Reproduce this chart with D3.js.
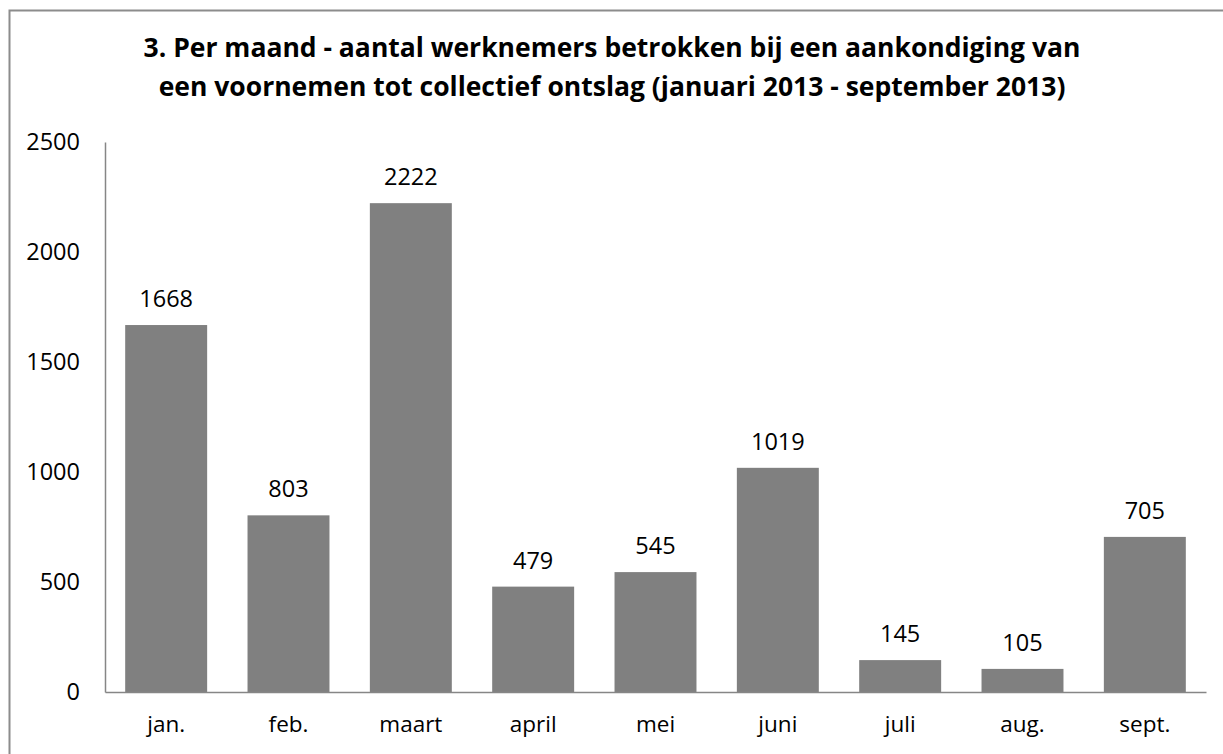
<!DOCTYPE html>
<html>
<head>
<meta charset="utf-8">
<script src="https://cdn.jsdelivr.net/npm/d3@7"></script>
<style>
  body { margin: 0; background: #fff; }
  svg text { font-family: "Open Sans", "DejaVu Sans", sans-serif; fill: #000; }
</style>
</head>
<body>
<svg id="chart"></svg>
<script>
// data
var months = ["jan.", "feb.", "maart", "april", "mei", "juni", "juli", "aug.", "sept."];
var workers = [1668, 803, 2222, 479, 545, 1019, 145, 105, 705];
var yTicks = [0, 500, 1000, 1500, 2000, 2500];
var titleLines = [
  "3. Per maand - aantal werknemers betrokken bij een aankondiging van",
  "een voornemen tot collectief ontslag (januari 2013 - september 2013)"
];

var W = 1223, H = 754;
var margin = {top: 142, right: 17, bottom: 62, left: 105};

var svg = d3.select("#chart")
    .attr("width", W)
    .attr("height", H);

// outer chart frame (runs off the right and bottom edge like the source)
svg.append("rect")
    .attr("x", 9.5)
    .attr("y", 10.5)
    .attr("width", W + 20)
    .attr("height", H + 20)
    .attr("fill", "white")
    .attr("stroke", "#8c8c8c")
    .attr("stroke-width", 2);

// title
svg.append("g").selectAll("text")
    .data(titleLines)
  .enter().append("text")
    .attr("x", 612)
    .attr("y", function(d, i) { return 57 + i * 39; })
    .attr("text-anchor", "middle")
    .attr("font-size", "26.5px")
    .attr("font-weight", "bold")
    .text(function(d) { return d; });

var x = d3.scaleBand()
    .domain(months)
    .range([margin.left, W - margin.right])
    .paddingInner(0.33)
    .paddingOuter(0.165);

var y = d3.scaleLinear()
    .domain([0, 2500])
    .range([H - margin.bottom, margin.top]);

// bars
svg.append("g").selectAll("rect")
    .data(workers)
  .enter().append("rect")
    .attr("x", function(d, i) { return x(months[i]); })
    .attr("y", function(d) { return y(d); })
    .attr("width", x.bandwidth())
    .attr("height", function(d) { return y(0) - y(d); })
    .attr("fill", "#808080");

// value labels
svg.append("g").selectAll("text")
    .data(workers)
  .enter().append("text")
    .attr("x", function(d, i) { return x(months[i]) + x.bandwidth() / 2; })
    .attr("y", function(d) { return y(d) - 18; })
    .attr("text-anchor", "middle")
    .attr("font-size", "23.5px")
    .text(function(d) { return d; });

// y axis
var yAxis = svg.append("g")
    .attr("transform", "translate(" + margin.left + ",0)")
    .call(d3.axisLeft(y).tickValues(yTicks).tickFormat(d3.format("d")).tickSize(0).tickPadding(25));
yAxis.select(".domain").attr("stroke", "#868686").attr("stroke-width", 1.5);
yAxis.selectAll("text")
    .attr("font-size", "23.5px")
    .attr("font-family", null)
    .attr("fill", "#000");

// x axis
var xAxis = svg.append("g")
    .attr("transform", "translate(0," + (H - margin.bottom) + ")")
    .call(d3.axisBottom(x).tickSize(0).tickPadding(24));
xAxis.select(".domain").attr("stroke", "#868686").attr("stroke-width", 1.5);
xAxis.selectAll("text")
    .attr("font-size", "22.5px")
    .attr("font-family", null)
    .attr("fill", "#000");
</script>
</body>
</html>
